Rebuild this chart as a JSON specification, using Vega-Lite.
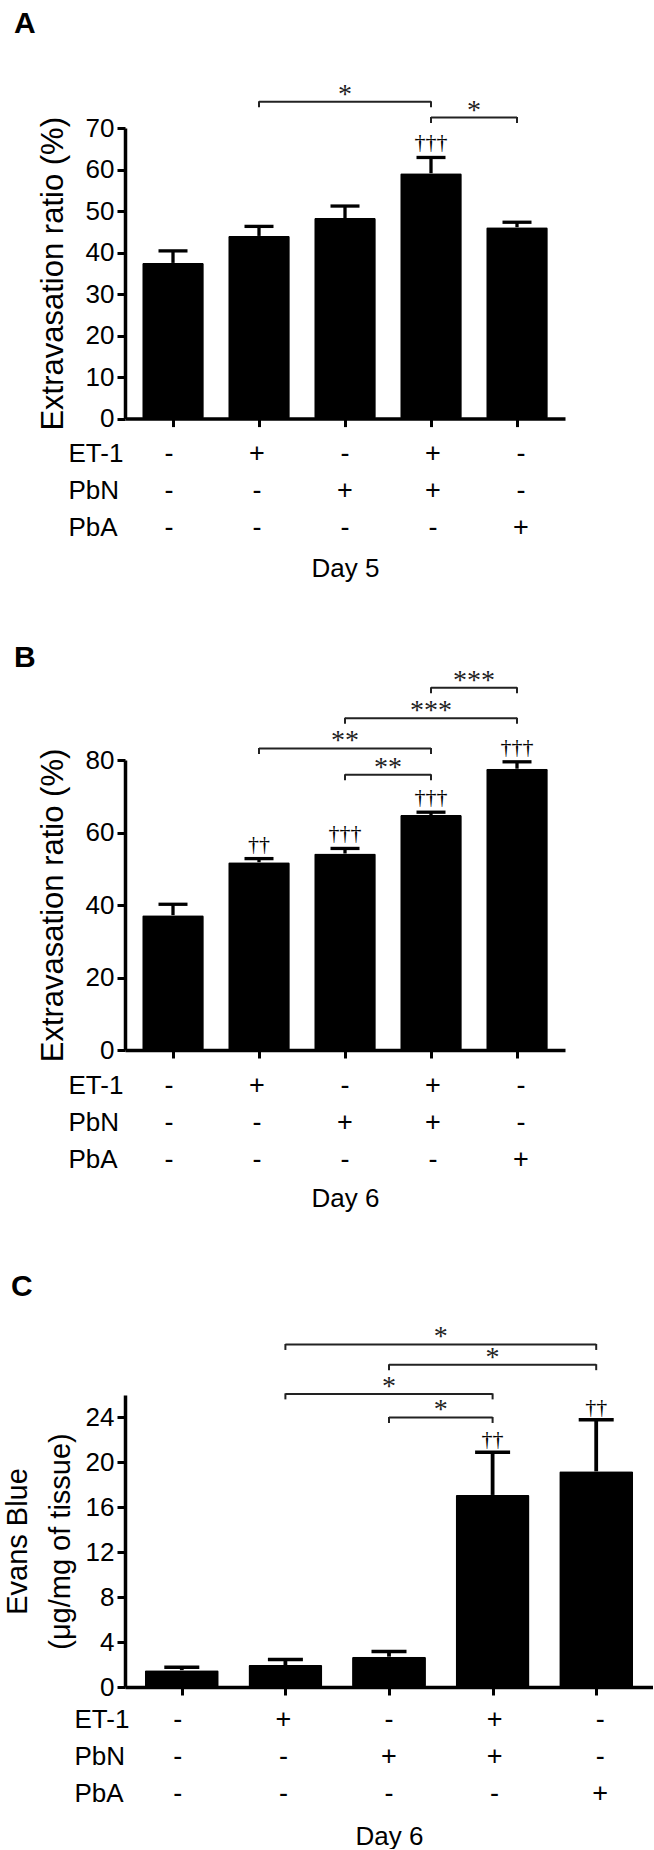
{
  "$schema": "https://vega.github.io/schema/vega-lite/v6.json",
  "padding": {"left": 3, "top": 8, "right": 0, "bottom": 0},
  "background": "white",
  "config": {
    "view": {"stroke": null},
    "font": "Liberation Sans",
    "axis": {"grid": false, "domainColor": "black", "tickColor": "black", "labelColor": "black", "titleColor": "black", "labelFont": "Liberation Sans", "titleFont": "Liberation Sans", "titleFontWeight": "normal"}
  },
  "datasets": {
    "A_bars": [
      {"group": 1, "mean": 37.5, "errTop": 40.4, "dagger": ""},
      {"group": 2, "mean": 44.0, "errTop": 46.3, "dagger": ""},
      {"group": 3, "mean": 48.3, "errTop": 51.2, "dagger": ""},
      {"group": 4, "mean": 59.1, "errTop": 62.9, "dagger": "†††"},
      {"group": 5, "mean": 46.1, "errTop": 47.3, "dagger": ""}
    ],
    "A_brackets": [
      {"from": 2, "to": 4, "mid": 3, "level": 76.3, "label": "*"},
      {"from": 4, "to": 5, "mid": 4.5, "level": 72.5, "label": "*"}
    ],
    "B_bars": [
      {"group": 1, "mean": 37.2, "errTop": 40.2, "dagger": ""},
      {"group": 2, "mean": 51.8, "errTop": 52.8, "dagger": "††"},
      {"group": 3, "mean": 54.2, "errTop": 55.6, "dagger": "†††"},
      {"group": 4, "mean": 64.8, "errTop": 65.6, "dagger": "†††"},
      {"group": 5, "mean": 77.6, "errTop": 79.5, "dagger": "†††"}
    ],
    "B_brackets": [
      {"from": 4, "to": 5, "mid": 4.5, "level": 99.9, "label": "***"},
      {"from": 3, "to": 5, "mid": 4, "level": 91.5, "label": "***"},
      {"from": 2, "to": 4, "mid": 3, "level": 83.2, "label": "**"},
      {"from": 3, "to": 4, "mid": 3.5, "level": 75.9, "label": "**"}
    ],
    "C_bars": [
      {"group": 1, "mean": 1.5, "errTop": 1.75, "dagger": ""},
      {"group": 2, "mean": 1.95, "errTop": 2.45, "dagger": ""},
      {"group": 3, "mean": 2.7, "errTop": 3.15, "dagger": ""},
      {"group": 4, "mean": 17.1, "errTop": 20.9, "dagger": "††"},
      {"group": 5, "mean": 19.2, "errTop": 23.8, "dagger": "††"}
    ],
    "C_brackets": [
      {"from": 2, "to": 5, "mid": 3.5, "level": 30.5, "label": "*"},
      {"from": 3, "to": 5, "mid": 4, "level": 28.7, "label": "*"},
      {"from": 2, "to": 4, "mid": 3, "level": 26.1, "label": "*"},
      {"from": 3, "to": 4, "mid": 3.5, "level": 24.0, "label": "*"}
    ],
    "table": [
      {"group": 1, "factor": "ET-1", "sign": "-"},
      {"group": 2, "factor": "ET-1", "sign": "+"},
      {"group": 3, "factor": "ET-1", "sign": "-"},
      {"group": 4, "factor": "ET-1", "sign": "+"},
      {"group": 5, "factor": "ET-1", "sign": "-"},
      {"group": 1, "factor": "PbN", "sign": "-"},
      {"group": 2, "factor": "PbN", "sign": "-"},
      {"group": 3, "factor": "PbN", "sign": "+"},
      {"group": 4, "factor": "PbN", "sign": "+"},
      {"group": 5, "factor": "PbN", "sign": "-"},
      {"group": 1, "factor": "PbA", "sign": "-"},
      {"group": 2, "factor": "PbA", "sign": "-"},
      {"group": 3, "factor": "PbA", "sign": "-"},
      {"group": 4, "factor": "PbA", "sign": "-"},
      {"group": 5, "factor": "PbA", "sign": "+"}
    ]
  },
  "vconcat": [
    {
      "spacing": 3.5,
      "vconcat": [
        {
          "width": 440, "height": 290.6,
          "title": {"text": "A", "anchor": "start", "frame": "group", "dx": -111, "offset": 42, "fontSize": 30, "fontWeight": "bold", "font": "Liberation Sans", "color": "black"},
          "layer": [
            {
              "data": {"name": "A_bars"},
              "mark": {"type": "bar", "width": 61.6, "color": "black", "cornerRadius": 1.5},
              "encoding": {
                "x": {"field": "group", "type": "quantitative", "scale": {"domain": [0.5, 5.5], "nice": false, "zero": false},
                  "axis": {"values": [1, 2, 3, 4, 5], "labels": false, "title": null, "tickSize": 8, "tickWidth": 3, "domainWidth": 3.5}},
                "y": {"field": "mean", "type": "quantitative", "scale": {"domain": [0, 70], "nice": false},
                  "axis": {"values": [0, 5, 10, 15, 20, 25, 30, 35, 40, 45, 50, 55, 60, 65, 70], "labelExpr": "datum.value % 10 === 0 ? datum.label : ''", "labelOverlap": false, "labelFontSize": 26, "labelPadding": 3,
                    "tickSize": {"condition": {"test": "datum.value % 10 === 0", "value": 8}, "value": 4}, "tickWidth": 3, "domainWidth": 3.5,
                    "title": "Extravasation ratio (%)", "titleFontSize": 31, "titlePadding": 16}}
              }
            },
            {
              "data": {"name": "A_bars"},
              "mark": {"type": "rule", "color": "black", "strokeWidth": 3.3},
              "encoding": {"x": {"field": "group", "type": "quantitative"}, "y": {"field": "mean", "type": "quantitative"}, "y2": {"field": "errTop"}}
            },
            {
              "data": {"name": "A_bars"},
              "mark": {"type": "tick", "orient": "horizontal", "color": "black", "size": 29, "thickness": 3.3, "opacity": 1},
              "encoding": {"x": {"field": "group", "type": "quantitative"}, "y": {"field": "errTop", "type": "quantitative"}}
            },
            {
              "data": {"name": "A_bars"},
              "mark": {"type": "text", "font": "Liberation Serif", "fontSize": 22, "dy": -15, "baseline": "middle", "color": "black"},
              "encoding": {"x": {"field": "group", "type": "quantitative"}, "y": {"field": "errTop", "type": "quantitative"}, "text": {"field": "dagger"}}
            },
            {
              "data": {"name": "A_brackets"},
              "mark": {"type": "rule", "color": "#222", "strokeWidth": 2},
              "encoding": {"x": {"field": "from", "type": "quantitative"}, "x2": {"field": "to"}, "y": {"field": "level", "type": "quantitative"}}
            },
            {
              "data": {"name": "A_brackets"},
              "mark": {"type": "tick", "orient": "vertical", "color": "#222", "size": 6, "thickness": 2, "yOffset": 2.5, "opacity": 1},
              "encoding": {"x": {"field": "from", "type": "quantitative"}, "y": {"field": "level", "type": "quantitative"}}
            },
            {
              "data": {"name": "A_brackets"},
              "mark": {"type": "tick", "orient": "vertical", "color": "#222", "size": 6, "thickness": 2, "yOffset": 2.5, "opacity": 1},
              "encoding": {"x": {"field": "to", "type": "quantitative"}, "y": {"field": "level", "type": "quantitative"}}
            },
            {
              "data": {"name": "A_brackets"},
              "mark": {"type": "text", "font": "Liberation Serif", "fontSize": 28, "dy": -7, "baseline": "middle", "color": "#222"},
              "encoding": {"x": {"field": "mid", "type": "quantitative"}, "y": {"field": "level", "type": "quantitative"}, "text": {"field": "label"}}
            }
          ]
        },
        {
          "width": 440, "height": 111,
          "data": {"name": "table"},
          "mark": {"type": "text", "font": "Liberation Sans", "fontSize": 27, "color": "black"},
          "encoding": {
            "x": {"field": "group", "type": "quantitative", "scale": {"domain": [0.5, 5.5], "nice": false, "zero": false},
              "axis": {"labels": false, "ticks": false, "domain": false, "title": "Day 5", "titleFontSize": 26, "titlePadding": 9}},
            "y": {"field": "factor", "type": "nominal", "sort": ["ET-1", "PbN", "PbA"], "scale": {"type": "band", "paddingInner": 0, "paddingOuter": 0},
              "axis": {"title": null, "ticks": false, "tickSize": 0, "domain": false, "labelAlign": "left", "labelPadding": 57, "labelFontSize": 26}},
            "text": {"field": "sign"}
          }
        }
      ]
    },
    {
      "spacing": 4.5,
      "vconcat": [
        {
          "width": 440, "height": 290,
          "title": {"text": "B", "anchor": "start", "frame": "group", "dx": -111, "offset": -6, "fontSize": 30, "fontWeight": "bold", "font": "Liberation Sans", "color": "black"},
          "layer": [
            {
              "data": {"name": "B_bars"},
              "mark": {"type": "bar", "width": 61.6, "color": "black", "cornerRadius": 1.5},
              "encoding": {
                "x": {"field": "group", "type": "quantitative", "scale": {"domain": [0.5, 5.5], "nice": false, "zero": false},
                  "axis": {"values": [1, 2, 3, 4, 5], "labels": false, "title": null, "tickSize": 8, "tickWidth": 3, "domainWidth": 3.5}},
                "y": {"field": "mean", "type": "quantitative", "scale": {"domain": [0, 80], "nice": false},
                  "axis": {"values": [0, 5, 10, 15, 20, 25, 30, 35, 40, 45, 50, 55, 60, 65, 70, 75, 80], "labelExpr": "datum.value % 10 === 0 ? datum.label : ''", "labelOverlap": false, "labelFontSize": 26, "labelPadding": 3,
                    "tickSize": {"condition": {"test": "datum.value % 10 === 0", "value": 8}, "value": 4}, "tickWidth": 3, "domainWidth": 3.5,
                    "title": "Extravasation ratio (%)", "titleFontSize": 31, "titlePadding": 16}}
              }
            },
            {
              "data": {"name": "B_bars"},
              "mark": {"type": "rule", "color": "black", "strokeWidth": 3.3},
              "encoding": {"x": {"field": "group", "type": "quantitative"}, "y": {"field": "mean", "type": "quantitative"}, "y2": {"field": "errTop"}}
            },
            {
              "data": {"name": "B_bars"},
              "mark": {"type": "tick", "orient": "horizontal", "color": "black", "size": 29, "thickness": 3.3, "opacity": 1},
              "encoding": {"x": {"field": "group", "type": "quantitative"}, "y": {"field": "errTop", "type": "quantitative"}}
            },
            {
              "data": {"name": "B_bars"},
              "mark": {"type": "text", "font": "Liberation Serif", "fontSize": 22, "dy": -15, "baseline": "middle", "color": "black"},
              "encoding": {"x": {"field": "group", "type": "quantitative"}, "y": {"field": "errTop", "type": "quantitative"}, "text": {"field": "dagger"}}
            },
            {
              "data": {"name": "B_brackets"},
              "mark": {"type": "rule", "color": "#222", "strokeWidth": 2},
              "encoding": {"x": {"field": "from", "type": "quantitative"}, "x2": {"field": "to"}, "y": {"field": "level", "type": "quantitative"}}
            },
            {
              "data": {"name": "B_brackets"},
              "mark": {"type": "tick", "orient": "vertical", "color": "#222", "size": 6, "thickness": 2, "yOffset": 2.5, "opacity": 1},
              "encoding": {"x": {"field": "from", "type": "quantitative"}, "y": {"field": "level", "type": "quantitative"}}
            },
            {
              "data": {"name": "B_brackets"},
              "mark": {"type": "tick", "orient": "vertical", "color": "#222", "size": 6, "thickness": 2, "yOffset": 2.5, "opacity": 1},
              "encoding": {"x": {"field": "to", "type": "quantitative"}, "y": {"field": "level", "type": "quantitative"}}
            },
            {
              "data": {"name": "B_brackets"},
              "mark": {"type": "text", "font": "Liberation Serif", "fontSize": 28, "dy": -7, "baseline": "middle", "color": "#222"},
              "encoding": {"x": {"field": "mid", "type": "quantitative"}, "y": {"field": "level", "type": "quantitative"}, "text": {"field": "label"}}
            }
          ]
        },
        {
          "width": 440, "height": 111,
          "data": {"name": "table"},
          "mark": {"type": "text", "font": "Liberation Sans", "fontSize": 27, "color": "black"},
          "encoding": {
            "x": {"field": "group", "type": "quantitative", "scale": {"domain": [0.5, 5.5], "nice": false, "zero": false},
              "axis": {"labels": false, "ticks": false, "domain": false, "title": "Day 6", "titleFontSize": 26, "titlePadding": 7}},
            "y": {"field": "factor", "type": "nominal", "sort": ["ET-1", "PbN", "PbA"], "scale": {"type": "band", "paddingInner": 0, "paddingOuter": 0},
              "axis": {"title": null, "ticks": false, "tickSize": 0, "domain": false, "labelAlign": "left", "labelPadding": 57, "labelFontSize": 26}},
            "text": {"field": "sign"}
          }
        }
      ]
    },
    {
      "spacing": 1,
      "vconcat": [
        {
          "width": 528, "height": 292,
          "title": {"text": "C", "anchor": "start", "frame": "group", "dx": -114, "offset": 21, "fontSize": 30, "fontWeight": "bold", "font": "Liberation Sans", "color": "black"},
          "layer": [
            {
              "data": {"name": "C_bars"},
              "mark": {"type": "bar", "width": 73.9, "color": "black", "cornerRadius": 1.5},
              "encoding": {
                "x": {"field": "group", "type": "quantitative", "scale": {"domain": [0.5, 5.5], "nice": false, "zero": false},
                  "axis": {"values": [1, 2, 3, 4, 5], "labels": false, "title": null, "tickSize": 8, "tickWidth": 3, "domainWidth": 3.5}},
                "y": {"field": "mean", "type": "quantitative", "scale": {"domain": [0, 26], "nice": false},
                  "axis": {"values": [0, 2, 4, 6, 8, 10, 12, 14, 16, 18, 20, 22, 24, 26], "labelExpr": "datum.value % 4 === 0 ? datum.label : ''", "labelOverlap": false, "labelFontSize": 26, "labelPadding": 3,
                    "tickSize": {"condition": {"test": "datum.value % 4 === 0", "value": 8}, "value": 4}, "tickWidth": 3, "domainWidth": 3.5,
                    "title": ["Evans Blue", "(μg/mg of tissue)"], "titleFontSize": 29, "titleLineHeight": 43, "titlePadding": 10}}
              }
            },
            {
              "data": {"name": "C_bars"},
              "mark": {"type": "rule", "color": "black", "strokeWidth": 3.8},
              "encoding": {"x": {"field": "group", "type": "quantitative"}, "y": {"field": "mean", "type": "quantitative"}, "y2": {"field": "errTop"}}
            },
            {
              "data": {"name": "C_bars"},
              "mark": {"type": "tick", "orient": "horizontal", "color": "black", "size": 35, "thickness": 3.5, "opacity": 1},
              "encoding": {"x": {"field": "group", "type": "quantitative"}, "y": {"field": "errTop", "type": "quantitative"}}
            },
            {
              "data": {"name": "C_bars"},
              "mark": {"type": "text", "font": "Liberation Serif", "fontSize": 22, "dy": -13, "baseline": "middle", "color": "black"},
              "encoding": {"x": {"field": "group", "type": "quantitative"}, "y": {"field": "errTop", "type": "quantitative"}, "text": {"field": "dagger"}}
            },
            {
              "data": {"name": "C_brackets"},
              "mark": {"type": "rule", "color": "#222", "strokeWidth": 2},
              "encoding": {"x": {"field": "from", "type": "quantitative"}, "x2": {"field": "to"}, "y": {"field": "level", "type": "quantitative"}}
            },
            {
              "data": {"name": "C_brackets"},
              "mark": {"type": "tick", "orient": "vertical", "color": "#222", "size": 6, "thickness": 2, "yOffset": 2.5, "opacity": 1},
              "encoding": {"x": {"field": "from", "type": "quantitative"}, "y": {"field": "level", "type": "quantitative"}}
            },
            {
              "data": {"name": "C_brackets"},
              "mark": {"type": "tick", "orient": "vertical", "color": "#222", "size": 6, "thickness": 2, "yOffset": 2.5, "opacity": 1},
              "encoding": {"x": {"field": "to", "type": "quantitative"}, "y": {"field": "level", "type": "quantitative"}}
            },
            {
              "data": {"name": "C_brackets"},
              "mark": {"type": "text", "font": "Liberation Serif", "fontSize": 28, "dy": -7, "baseline": "middle", "color": "#222"},
              "encoding": {"x": {"field": "mid", "type": "quantitative"}, "y": {"field": "level", "type": "quantitative"}, "text": {"field": "label"}}
            }
          ]
        },
        {
          "width": 528, "height": 111,
          "data": {"name": "table"},
          "mark": {"type": "text", "font": "Liberation Sans", "fontSize": 27, "color": "black"},
          "encoding": {
            "x": {"field": "group", "type": "quantitative", "scale": {"domain": [0.5, 5.5], "nice": false, "zero": false},
              "axis": {"labels": false, "ticks": false, "domain": false, "title": "Day 6", "titleFontSize": 26, "titlePadding": 11}},
            "y": {"field": "factor", "type": "nominal", "sort": ["ET-1", "PbN", "PbA"], "scale": {"type": "band", "paddingInner": 0, "paddingOuter": 0},
              "axis": {"title": null, "ticks": false, "tickSize": 0, "domain": false, "labelAlign": "left", "labelPadding": 51, "labelFontSize": 26}},
            "text": {"field": "sign"}
          }
        }
      ]
    }
  ],
  "spacing": 60
}
